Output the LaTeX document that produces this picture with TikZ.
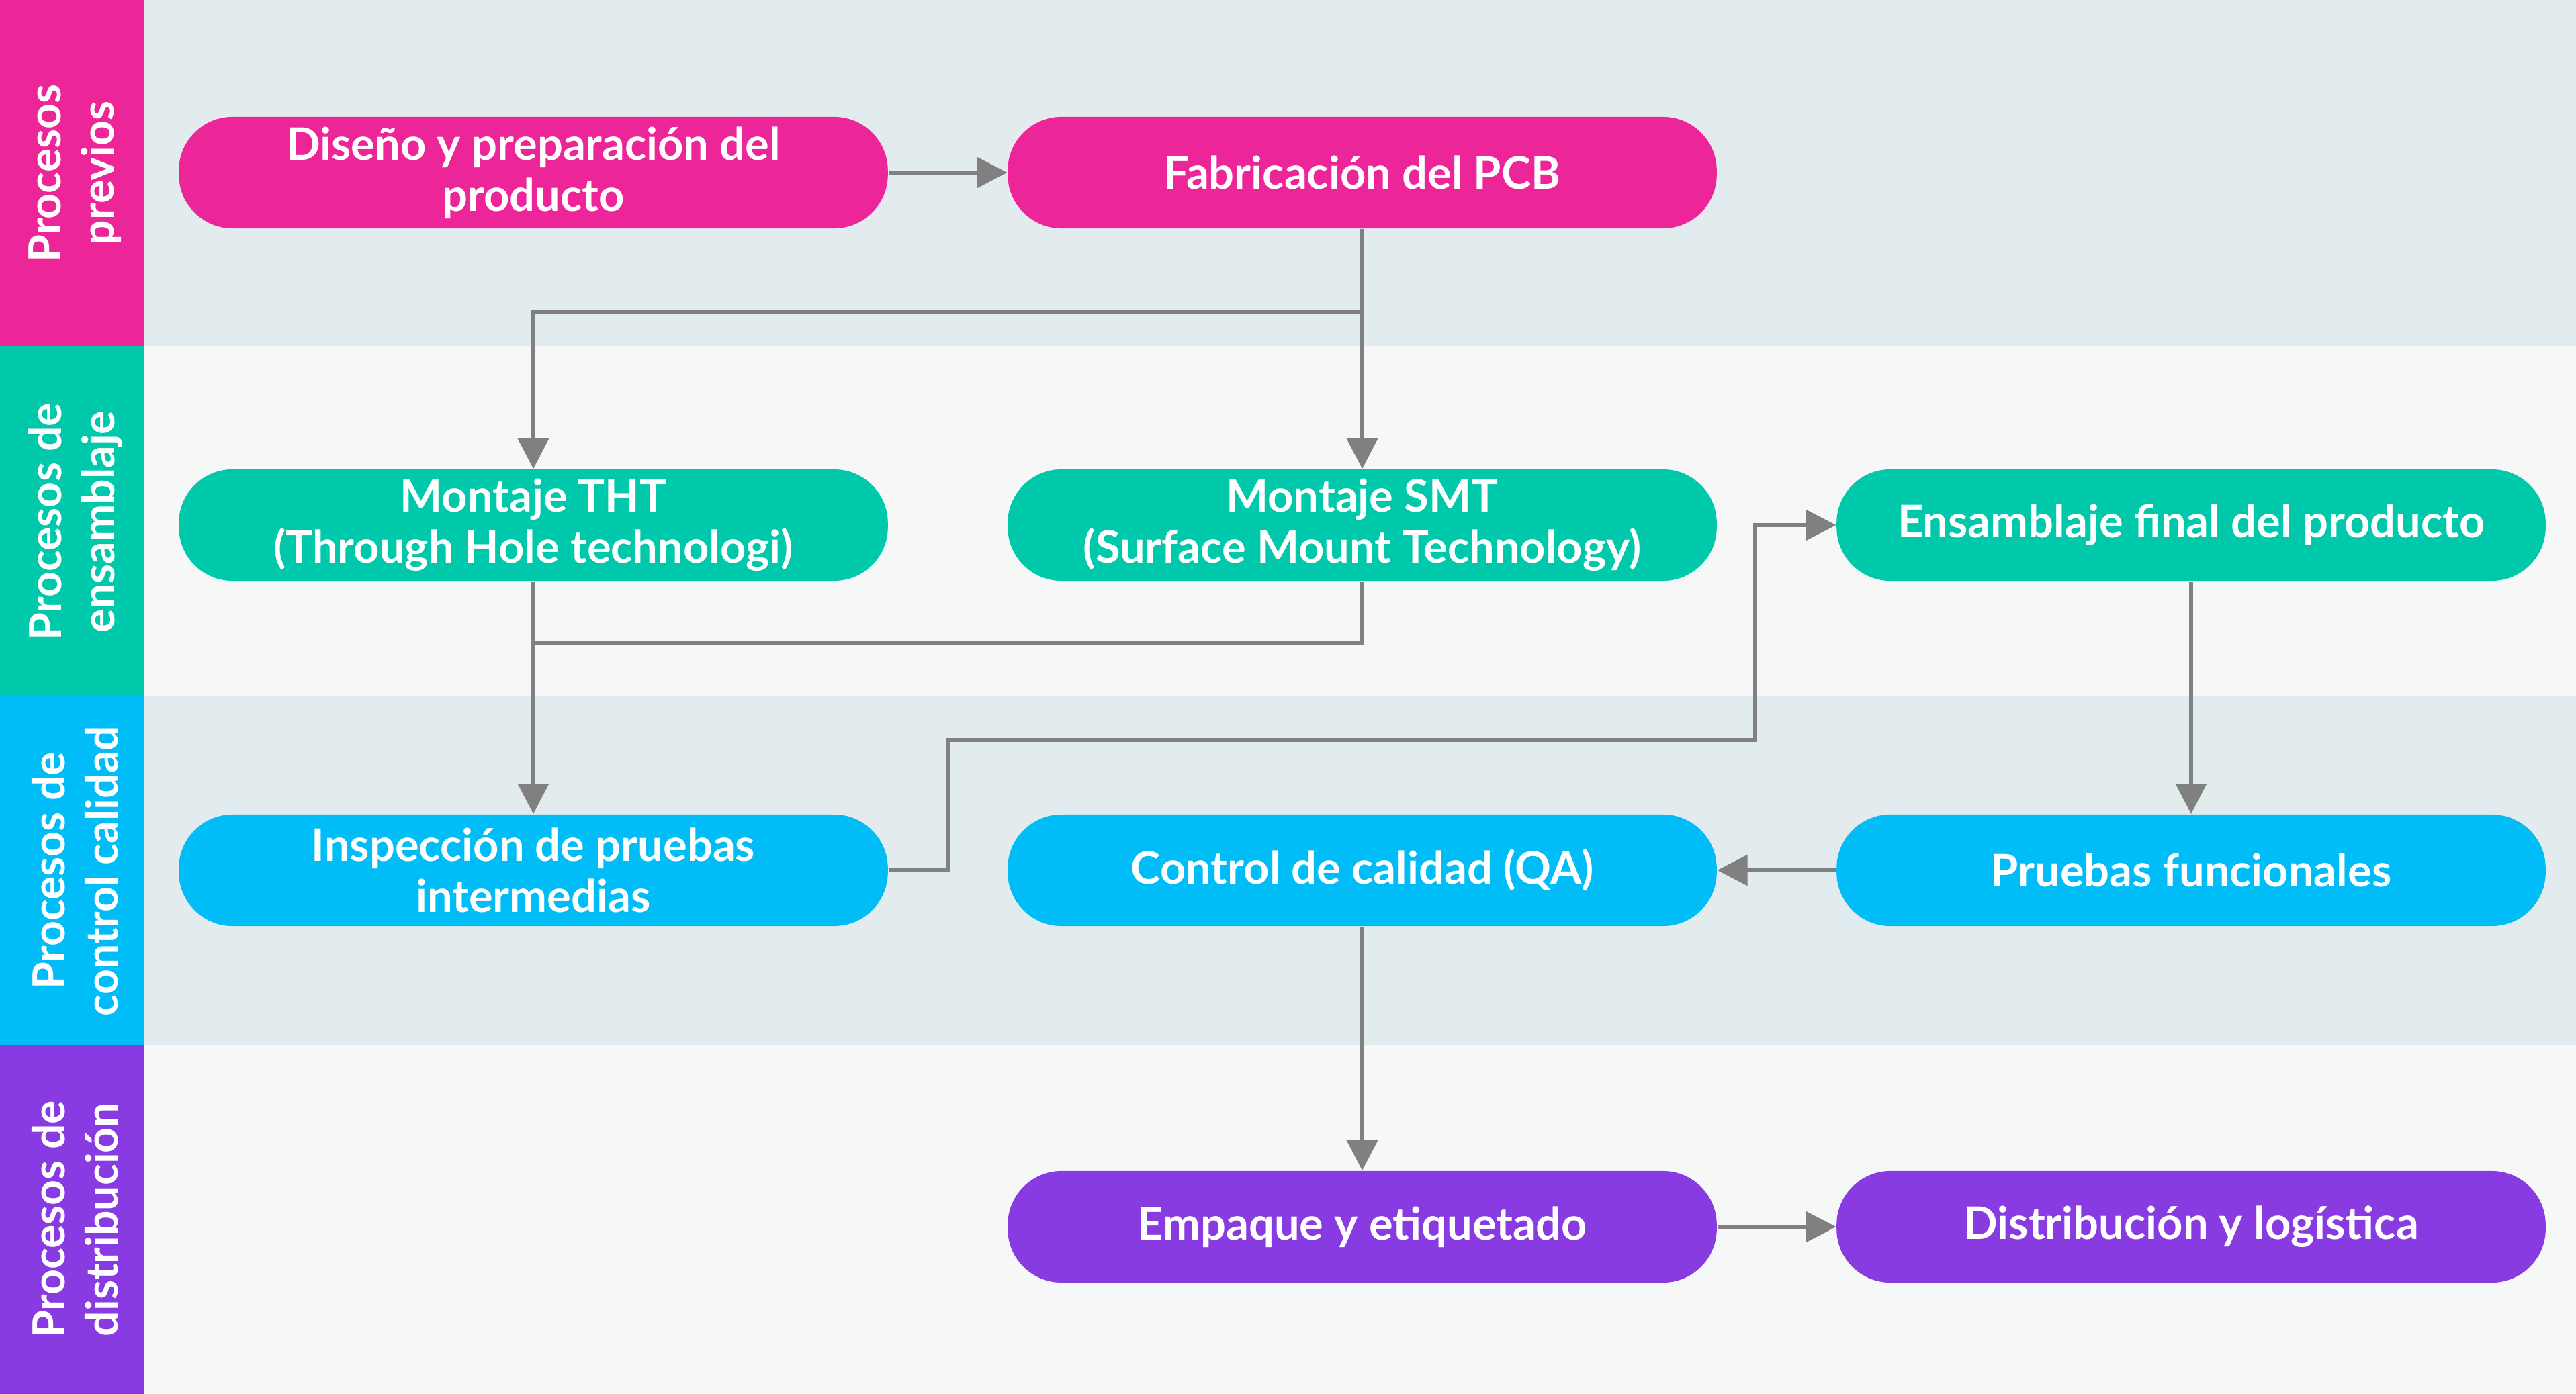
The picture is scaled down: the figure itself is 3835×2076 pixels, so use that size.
\documentclass[tikz,border=0pt]{standalone}
\usepackage{fontspec}
\setmainfont{Lato}
\usetikzlibrary{arrows.meta}
\definecolor{cpink}{HTML}{EC2699}
\definecolor{cteal}{HTML}{00C8AA}
\definecolor{ccyan}{HTML}{00BCF7}
\definecolor{cpurp}{HTML}{883BE0}
\definecolor{laneA}{HTML}{E2EBEE}
\definecolor{laneB}{HTML}{F6F8F8}
\definecolor{cline}{HTML}{808080}
\tikzset{
  proc/.style={rounded corners=0.8cm, minimum width=10.55cm, minimum height=1.66cm,
    text=white, align=center, font=\fontsize{19}{21.5}\selectfont\bfseries, inner sep=0pt},
  lanelabel/.style={rotate=90, text=white, align=center,
    font=\fontsize{18.8}{22.5}\selectfont\bfseries},
  conn/.style={draw=cline, line width=0.06cm, -{Triangle[length=0.45cm,width=0.45cm]}},
  plain/.style={draw=cline, line width=0.06cm},
}
\begin{document}
\begin{tikzpicture}[x=0.01cm,y=-0.01cm]
\useasboundingbox (0,0) rectangle (3835,2076);
% lanes
\fill[laneA] (214,0) rectangle (3835,516);
\fill[laneB] (214,516) rectangle (3835,1037);
\fill[laneA] (214,1037) rectangle (3835,1556);
\fill[laneB] (214,1556) rectangle (3835,2076);
\fill[cpink] (0,0) rectangle (214,516);
\fill[cteal] (0,516) rectangle (214,1037);
\fill[ccyan] (0,1037) rectangle (214,1556);
\fill[cpurp] (0,1556) rectangle (214,2076);
\node[lanelabel] (L1) at (112,258) {Procesos\\previos};
\node[lanelabel] (L2) at (112,777) {Procesos de\\ensamblaje};
\node[lanelabel] (L3) at (112,1297) {Procesos de\\control calidad};
\node[lanelabel] (L4) at (112,1816) {Procesos de\\distribución};
% nodes
\node[proc, fill=cpink] (dis) at (794,257) {Diseño y preparación del\\producto};
\node[proc, fill=cpink] (fab) at (2028,257) {Fabricación del PCB};
\node[proc, fill=cteal] (tht) at (794,782) {Montaje THT\\(Through Hole technologi)};
\node[proc, fill=cteal] (smt) at (2028,782) {Montaje SMT\\(Surface Mount Technology)};
\node[proc, fill=cteal] (ens) at (3262,782) {Ensamblaje final del producto};
\node[proc, fill=ccyan] (ins) at (794,1296) {Inspección de pruebas\\intermedias};
\node[proc, fill=ccyan] (qa) at (2028,1296) {Control de calidad (QA)};
\node[proc, fill=ccyan] (pru) at (3262,1296) {Pruebas funcionales};
\node[proc, fill=cpurp] (emp) at (2028,1827) {Empaque y etiquetado};
\node[proc, fill=cpurp] (dist) at (3262,1827) {Distribución y logística};
% connectors
\coordinate (j1) at (2028,465);
\coordinate (j2) at (794,958);
\draw[conn] (dis) -- (fab);
\draw[conn] (fab) -- (smt);
\draw[conn] (j1) -| (tht);
\draw[conn] (tht) -- (ins);
\draw[plain] (smt.south) |- (j2);
\draw[conn] (ins.east) -- (1411,1296) -- (1411,1102) -- (2613,1102) -- (2613,782) -- (ens.west);
\draw[conn] (ens) -- (pru);
\draw[conn] (pru) -- (qa);
\draw[conn] (qa) -- (emp);
\draw[conn] (emp) -- (dist);
\end{tikzpicture}
\end{document}
